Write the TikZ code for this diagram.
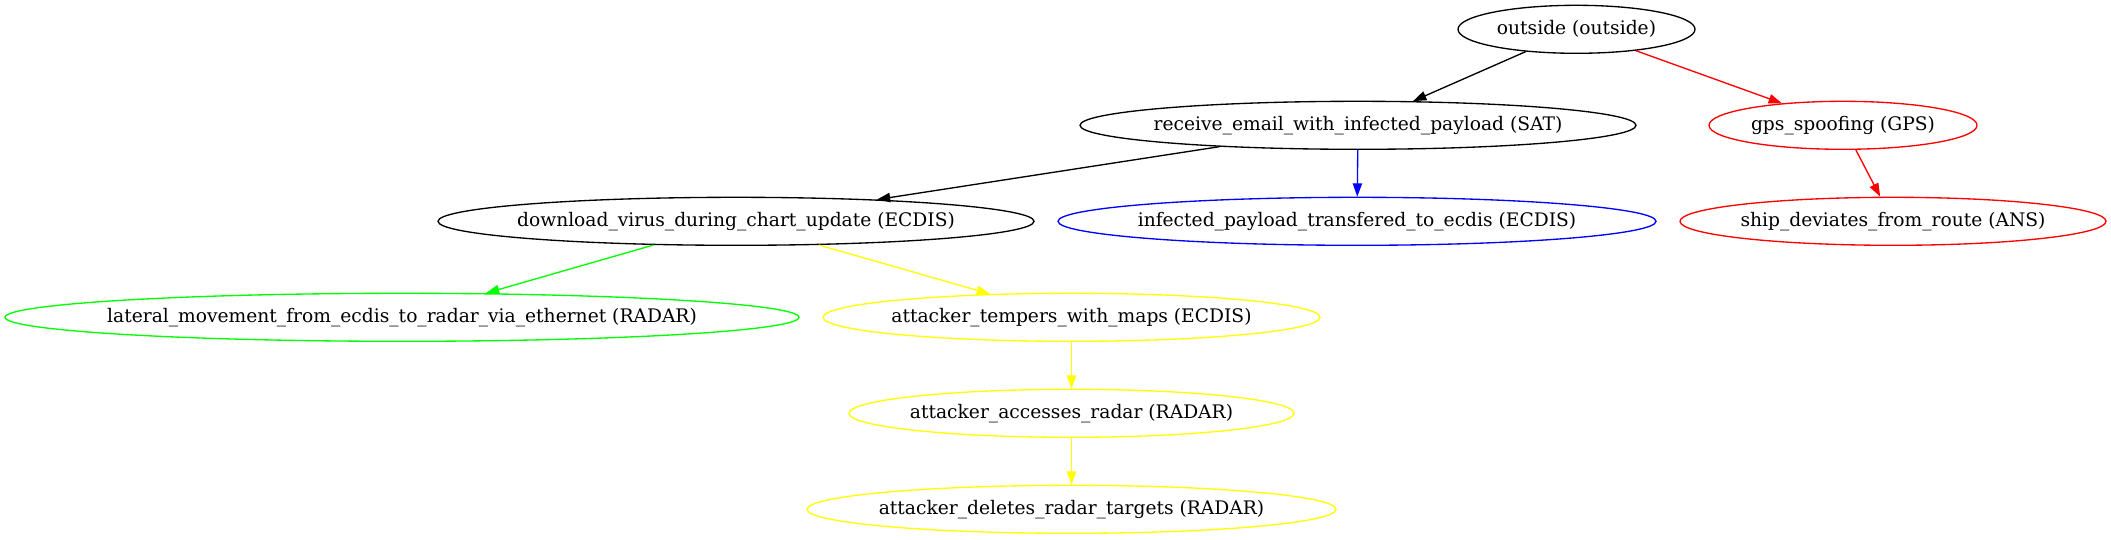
\documentclass[tikz,border=0pt]{standalone}
\usepackage{fontspec}
\setmainfont{DejaVu Serif}
\usetikzlibrary{shapes.geometric,arrows.meta}
\begin{document}
\begin{tikzpicture}[x=0.75pt,y=-0.75pt,
  ell/.style={ellipse,draw,line width=1pt,inner sep=0pt,minimum height=36pt,font=\fontsize{14pt}{16pt}\selectfont},
  edge/.style={line width=1pt,-{Triangle[length=10pt,width=7pt]}}]
\useasboundingbox (0,0) rectangle (2111,539);
\definecolor{gvgreen}{RGB}{0,255,0}
\definecolor{gvyellow}{RGB}{255,255,0}
\definecolor{gvblue}{RGB}{0,0,255}
\definecolor{gvred}{RGB}{255,0,0}
\node[ell,minimum width=177.75pt] (outside) at (1576.5,29.3) {\makebox[0pt]{outside (outside)}};
\node[ell,minimum width=417pt] (receive) at (1358,125.3) {\makebox[0pt]{receive\_email\_with\_infected\_payload (SAT)}};
\node[ell,draw=gvred,minimum width=201pt] (gps) at (1843,125.3) {\makebox[0pt]{gps\_spoofing (GPS)}};
\node[ell,minimum width=447pt] (download) at (736,221.3) {\makebox[0pt]{download\_virus\_during\_chart\_update (ECDIS)}};
\node[ell,draw=gvblue,minimum width=448.5pt] (infected) at (1357,221.3) {\makebox[0pt]{infected\_payload\_transfered\_to\_ecdis (ECDIS)}};
\node[ell,draw=gvred,minimum width=319.5pt] (ship) at (1893,221.3) {\makebox[0pt]{ship\_deviates\_from\_route (ANS)}};
\node[ell,draw=gvgreen,minimum width=595.5pt] (lateral) at (402,317.3) {\makebox[0pt]{lateral\_movement\_from\_ecdis\_to\_radar\_via\_ethernet (RADAR)}};
\node[ell,draw=gvyellow,minimum width=372.75pt] (tempers) at (1071.5,317.3) {\makebox[0pt]{attacker\_tempers\_with\_maps (ECDIS)}};
\node[ell,draw=gvyellow,minimum width=333.75pt] (accesses) at (1071.5,413.3) {\makebox[0pt]{attacker\_accesses\_radar (RADAR)}};
\node[ell,draw=gvyellow,minimum width=396.75pt] (deletes) at (1071.5,509.3) {\makebox[0pt]{attacker\_deletes\_radar\_targets (RADAR)}};
\draw[edge] (outside) -- (receive);
\draw[edge,gvred] (outside) -- (gps);
\draw[edge] (receive) -- (download);
\draw[edge,gvblue] (receive) -- (infected);
\draw[edge,gvred] (gps) -- (ship);
\draw[edge,gvgreen] (download) -- (lateral);
\draw[edge,gvyellow] (download) -- (tempers);
\draw[edge,gvyellow] (tempers) -- (accesses);
\draw[edge,gvyellow] (accesses) -- (deletes);
\end{tikzpicture}
\end{document}
